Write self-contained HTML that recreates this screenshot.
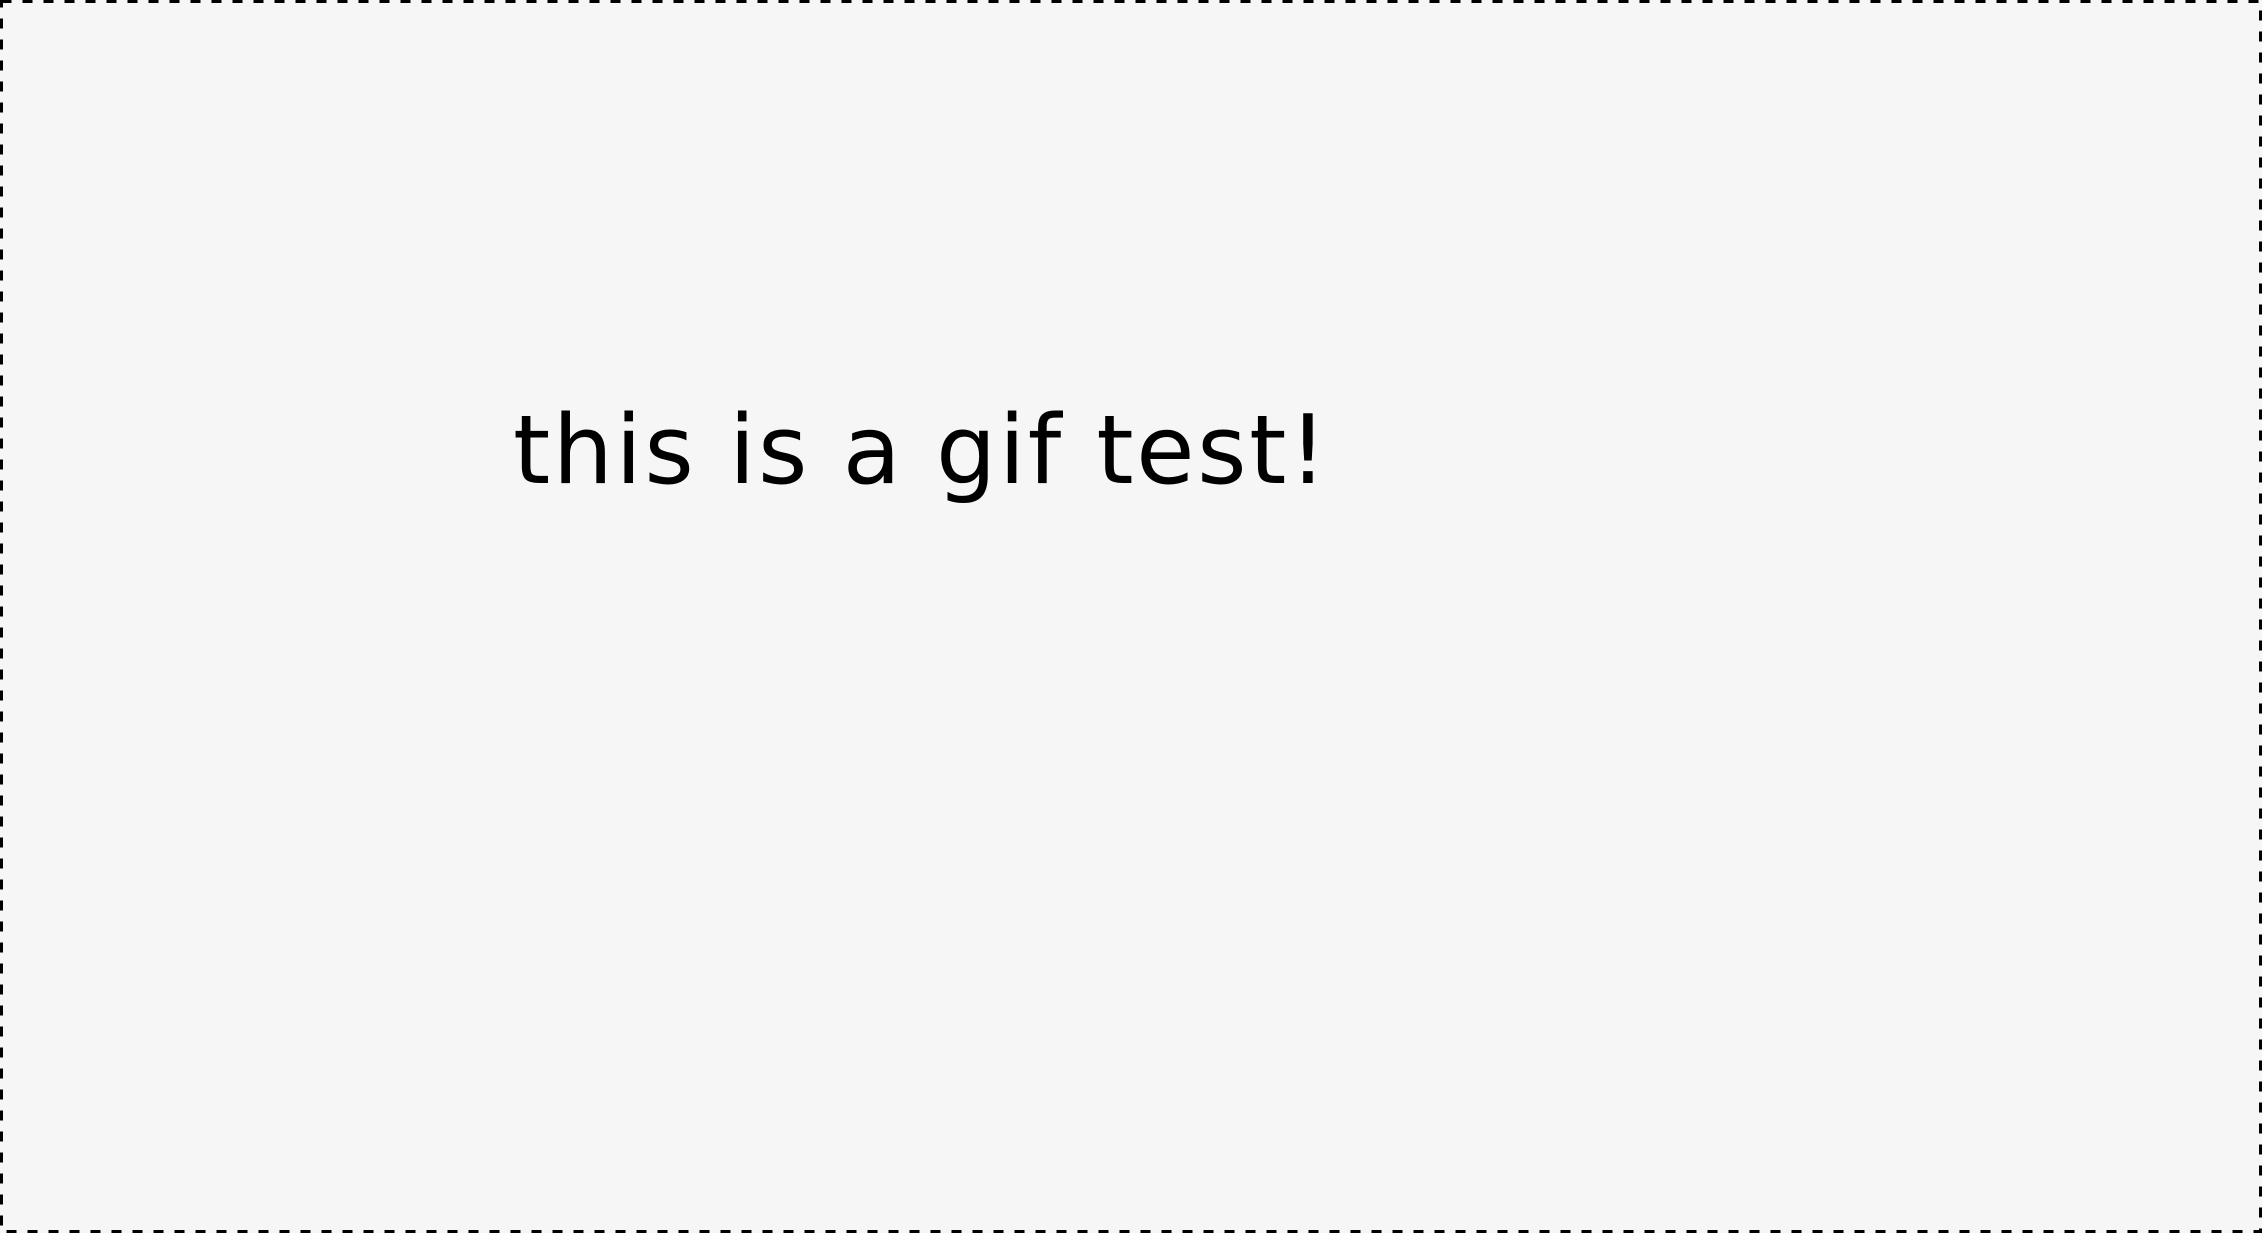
<!DOCTYPE html>
<html><head><meta charset="utf-8"><style>
html,body{margin:0;padding:0;width:2262px;height:1233px;overflow:hidden;background:#f6f6f6}
svg{position:absolute;left:0;top:0}
</style></head><body>
<svg width="2262" height="1233" xmlns="http://www.w3.org/2000/svg">
<rect x="0" y="0" width="2262" height="1233" fill="#f6f6f6"/>
<rect x="1.5" y="1.5" width="2259" height="1230" fill="none" stroke="#000" stroke-width="3" stroke-dasharray="10 11"/>
<text x="513" y="483" font-family="DejaVu Sans, sans-serif" font-size="95" letter-spacing="2.5" fill="#000">this is a gif test!</text>
</svg>
</body></html>
